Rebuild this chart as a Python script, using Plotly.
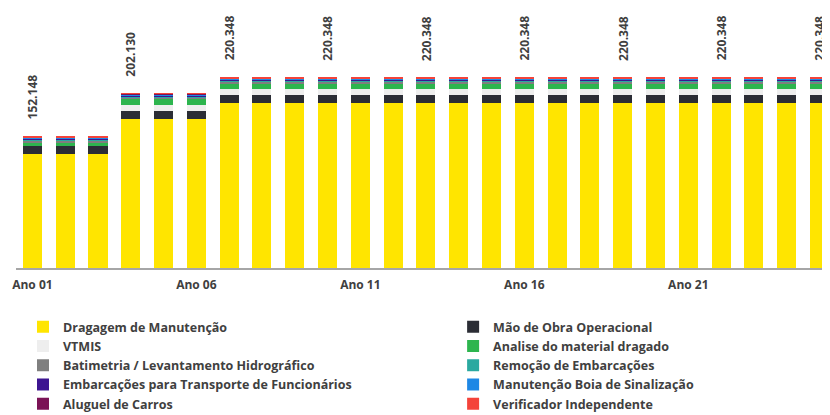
import plotly.graph_objects as go

years = [f"Ano {i:02d}" for i in range(1, 26)]
tick_labels = ["Ano 01", "Ano 06", "Ano 11", "Ano 16", "Ano 21"]

# per-phase values (years 1-3, 4-6, 7-25)
phase_counts = [3, 3, 19]
dragagem = [132.148, 172.630, 191.348]
mao_obra = [8.8, 9.6, 8.6]
vtmis = [0.0, 6.6, 6.9]
analise = [3.9, 6.9, 7.0]
batimetria = [2.3, 1.9, 2.0]
remocao = [1.5, 1.2, 1.3]
embarcacoes = [0.8, 0.8, 0.8]
boia = [1.3, 1.2, 1.2]
aluguel = [0.8, 0.8, 0.7]
verificador = [0.6, 0.5, 0.5]

totals_phase = ["152.148", "202.130", "220.348"]
label_every = 3

def expand(vals):
    out = []
    for v, n in zip(vals, phase_counts):
        out += [v] * n
    return out

series = [
    ("Dragagem de Manutenção", dragagem, "#FFE500", "legend"),
    ("Mão de Obra Operacional", mao_obra, "#2B2D35", "legend2"),
    ("VTMIS", vtmis, "#EEEEEE", "legend"),
    ("Analise do material dragado", analise, "#2DB54E", "legend2"),
    ("Batimetria / Levantamento Hidrográfico", batimetria, "#7F7F7F", "legend"),
    ("Remoção de Embarcações", remocao, "#2AA9A0", "legend2"),
    ("Embarcações para Transporte de Funcionários", embarcacoes, "#3D1591", "legend"),
    ("Manutenção Boia de Sinalização", boia, "#1E88E5", "legend2"),
    ("Aluguel de Carros", aluguel, "#7B1356", "legend"),
    ("Verificador Independente", verificador, "#F4433A", "legend2"),
]

fig = go.Figure()
for name, vals, color, leg in series:
    fig.add_trace(go.Bar(x=years, y=expand(vals), name=name, legend=leg,
                         marker=dict(color=color, line=dict(width=0))))

totals_num = [sum(s[1][k] for s in series) for k in range(3)]
tot_exp = expand(totals_num)
lab_exp = expand(totals_phase)
for i, yr in enumerate(years):
    if i % label_every == 0:
        fig.add_annotation(x=yr, y=tot_exp[i], text=lab_exp[i], textangle=-90,
                           showarrow=False, xanchor="center", yanchor="bottom",
                           yshift=15, font=dict(size=12, color="#404040"))

leg_common = dict(orientation="v", yanchor="top", xanchor="left",
                  font=dict(size=12.5, color="#404040"), itemwidth=30,
                  traceorder="normal", bgcolor="rgba(0,0,0,0)")

fig.update_layout(
    width=822, height=407,
    barmode="stack", bargap=0.42,
    margin=dict(l=8, r=0, t=2, b=147, autoexpand=False),
    paper_bgcolor="white", plot_bgcolor="white",
    font=dict(family="Open Sans", size=12, color="#404040", weight="bold"),
    showlegend=True,
    legend=dict(x=0.0086, y=-0.171, **leg_common),
    legend2=dict(x=0.537, y=-0.171, **leg_common),
    xaxis=dict(type="category", range=[-0.5, 24.32], tickvals=tick_labels,
               ticktext=tick_labels, showline=True, linecolor="#A6A6A6",
               linewidth=2, ticks="", ticklabelstandoff=5, showgrid=False,
               tickfont=dict(size=12, color="#404040")),
    yaxis=dict(range=[0, 298.7], visible=False, showgrid=False),
)

fig.write_html("out.html")
